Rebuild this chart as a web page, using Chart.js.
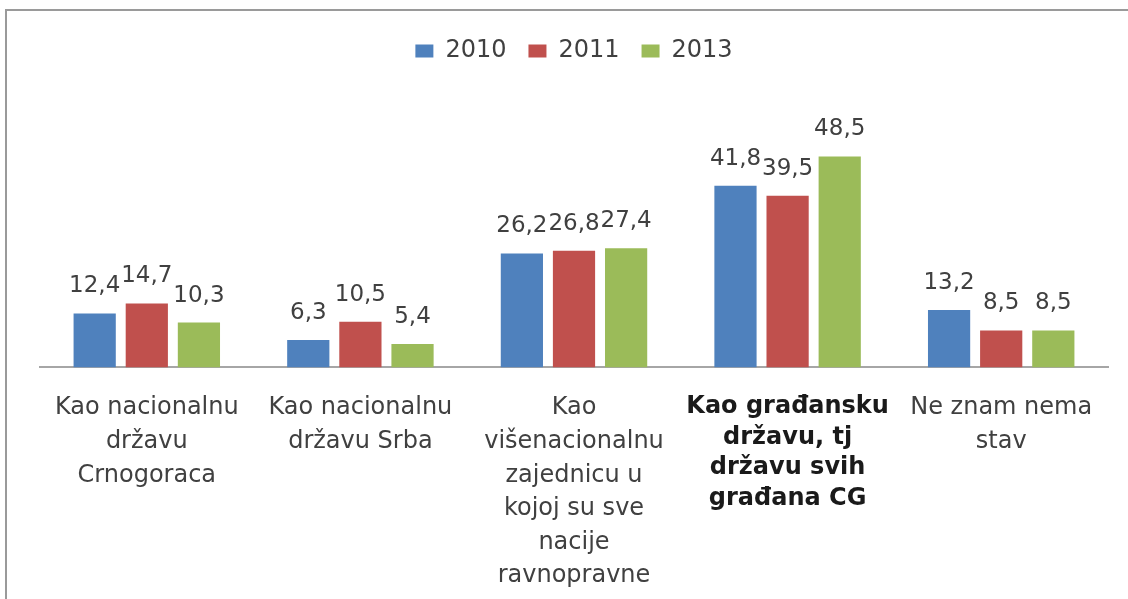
<!DOCTYPE html>
<html>
<head>
<meta charset="utf-8">
<script src="https://cdn.jsdelivr.net/npm/chart.js@4.4.0/dist/chart.umd.min.js"></script>
<style>
  html, body { margin: 0; padding: 0; background: #ffffff; }
  #wrap { width: 1128px; height: 599px; position: relative; }
</style>
</head>
<body>
<div id="wrap"><canvas id="c" width="1128" height="599"></canvas></div>
<script>
const categories = [
  ["Kao nacionalnu", "državu", "Crnogoraca"],
  ["Kao nacionalnu", "državu Srba"],
  ["Kao", "višenacionalnu", "zajednicu u", "kojoj su sve", "nacije", "ravnopravne"],
  ["Kao građansku", "državu, tj", "državu svih", "građana CG"],
  ["Ne znam nema", "stav"]
];
const seriesNames = ["2010", "2011", "2013"];
const values2010 = [12.4, 6.3, 26.2, 41.8, 13.2];
const values2011 = [14.7, 10.5, 26.8, 39.5, 8.5];
const values2013 = [10.3, 5.4, 27.4, 48.5, 8.5];
const seriesColors = ["#4F81BD", "#C0504D", "#9BBB59"];

const frame = {
  id: 'frame',
  beforeDraw(chart) {
    const ctx = chart.ctx;
    ctx.save();
    ctx.fillStyle = '#ffffff';
    ctx.fillRect(0, 0, chart.width, chart.height);
    ctx.fillStyle = '#9a9a9a';
    ctx.fillRect(5, 9, 2, chart.height - 9);
    ctx.fillRect(5, 9, chart.width - 5, 2);
    ctx.restore();
  }
};

const valueLabels = {
  id: 'valueLabels',
  afterDatasetsDraw(chart) {
    const ctx = chart.ctx;
    ctx.save();
    ctx.font = '23px "DejaVu Sans"';
    ctx.fillStyle = '#404040';
    ctx.textAlign = 'center';
    ctx.textBaseline = 'alphabetic';
    chart.data.datasets.forEach((ds, di) => {
      const meta = chart.getDatasetMeta(di);
      meta.data.forEach((bar, i) => {
        ctx.fillText(String(ds.data[i]).replace('.', ','), bar.x, bar.y - 21);
      });
    });
    ctx.restore();
  }
};

new Chart(document.getElementById('c'), {
  type: 'bar',
  data: {
    labels: categories,
    datasets: [
      { label: seriesNames[0], data: values2010, backgroundColor: seriesColors[0] },
      { label: seriesNames[1], data: values2011, backgroundColor: seriesColors[1] },
      { label: seriesNames[2], data: values2013, backgroundColor: seriesColors[2] }
    ]
  },
  options: {
    responsive: false,
    animation: false,
    devicePixelRatio: 1,
    categoryPercentage: 0.732,
    barPercentage: 0.81,
    layout: { padding: { top: 17, left: 40, right: 20, bottom: -18 } },
    plugins: {
      legend: {
        position: 'top',
        labels: {
          boxWidth: 18,
          boxHeight: 13,
          padding: 22,
          color: '#404040',
          font: { family: 'DejaVu Sans', size: 24 }
        }
      },
      tooltip: { enabled: false }
    },
    scales: {
      x: {
        grid: { display: false, drawTicks: false },
        border: { display: true, color: '#a6a6a6', width: 2 },
        ticks: {
          autoSkip: false,
          maxRotation: 0,
          minRotation: 0,
          padding: 24,
          color: (c) => c.index === 3 ? '#1a1a1a' : '#404040',
          font: (c) => c.index === 3
            ? { family: 'DejaVu Sans', size: 24, weight: 'bold', lineHeight: 1.28 }
            : { family: 'DejaVu Sans', size: 24, lineHeight: 1.4 }
        }
      },
      y: {
        display: false,
        min: 0,
        max: 67.7
      }
    }
  },
  plugins: [frame, valueLabels]
});
</script>
</body>
</html>
